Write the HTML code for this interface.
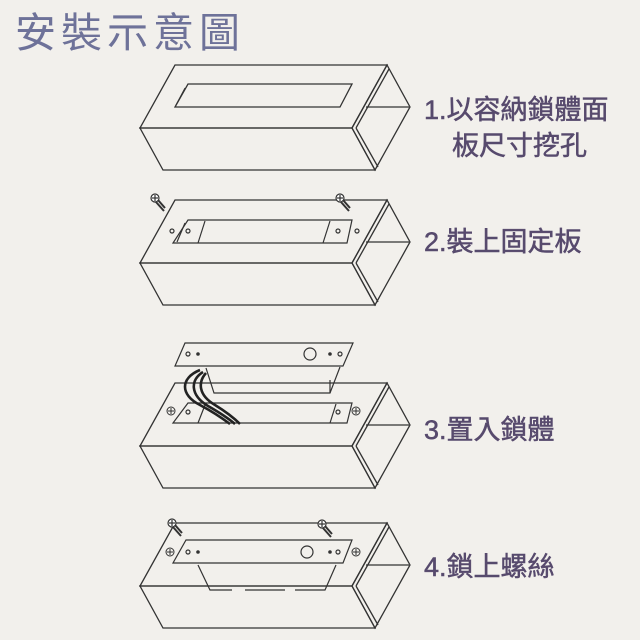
<!DOCTYPE html>
<html><head><meta charset="utf-8"><style>
html,body{margin:0;padding:0;background:#f2f0ec;}
svg{display:block}
.t{font-family:"Liberation Sans","Noto Sans CJK TC",sans-serif;}
</style></head><body>
<svg width="640" height="640" viewBox="0 0 640 640" xmlns="http://www.w3.org/2000/svg">
<rect width="640" height="640" fill="#f2f0ec"/>
<text class="t" x="15" y="47" font-size="41" fill="#6e7299" letter-spacing="5">安裝示意圖</text>
<g class="t" fill="#574a6d" stroke="#574a6d" stroke-width="0.5" font-size="27">
<text x="424" y="119">1.以容納鎖體面</text>
<text x="452" y="155">板尺寸挖孔</text>
<text x="424" y="251">2.裝上固定板</text>
<text x="424" y="439">3.置入鎖體</text>
<text x="424" y="576">4.鎖上螺絲</text>
</g>
<defs>
<g id="box" fill="none" stroke="#333" stroke-width="1.3">
<polygon points="175,0 387,0 352,63 140,63"/>
<polygon points="140,63 352,63 375,105 163,105"/>
<polygon points="352,63 387,0 410,42 375,105"/>
<line x1="366" y1="42" x2="409" y2="42"/>
<line x1="356" y1="63" x2="389" y2="4"/>
<line x1="356" y1="63" x2="378" y2="102"/>
</g>
<g id="screw" fill="none" stroke="#333" stroke-width="1.2">
<circle cx="0" cy="0" r="4" fill="#fff"/>
<line x1="-3" y1="0" x2="3" y2="0"/><line x1="0" y1="-3" x2="0" y2="3"/>
<path d="M1,4 L9,13 M3,2 L10,10" stroke-width="2"/>
</g>
<g id="cross" fill="none" stroke="#333" stroke-width="1">
<circle r="4"/><line x1="-3" y1="0" x2="3" y2="0"/><line x1="0" y1="-3" x2="0" y2="3"/>
</g>
</defs>
<use href="#box" y="65"/>
<polygon points="188,84 352,84 340,107 175,107" fill="none" stroke="#333" stroke-width="1.3"/>
<line x1="185" y1="88" x2="176" y2="105" stroke="#333"/>
<use href="#box" y="200"/>
<g fill="none" stroke="#333" stroke-width="1.2">
<polygon points="188,220 352,220 347,243 173,243"/>
<line x1="185" y1="223" x2="177" y2="242"/>
<line x1="205" y1="221" x2="198" y2="243"/>
<line x1="330" y1="221" x2="323" y2="243"/>
<circle cx="172" cy="231" r="2"/><circle cx="188" cy="231" r="2"/>
<circle cx="338" cy="231" r="2"/><circle cx="357" cy="231" r="2"/>
</g>
<use href="#screw" x="155" y="198"/>
<use href="#screw" x="340" y="198"/>
<use href="#box" y="383"/>
<g fill="none" stroke="#333" stroke-width="1.2">
<polygon points="188,403 352,403 347,423 173,423"/>
<line x1="198" y1="423" x2="205" y2="405"/>
<line x1="330" y1="423" x2="336" y2="404"/>
<circle cx="188" cy="412" r="2"/><circle cx="338" cy="412" r="2"/>
<polygon points="185,343 353,343 343,366 175,366" fill="#f2f0ec"/>
<circle cx="188" cy="354" r="2"/><circle cx="198" cy="354" r="1.2" fill="#333"/>
<circle cx="310" cy="354" r="6"/>
<circle cx="330" cy="354" r="1.2" fill="#333"/><circle cx="340" cy="354" r="2"/>
<path d="M206,368 L214,393 L330,393 L340,367"/>
<path d="M330,393 L330,380"/>
</g>
<g fill="none" stroke="#222" stroke-width="2.6">
<path d="M200,370 C180,378 180,395 200,405 C215,413 222,418 230,424"/>
<path d="M203,372 C190,380 190,395 208,406 C222,414 228,418 235,424"/>
<path d="M206,373 C198,382 198,395 215,405 C228,413 234,418 240,424"/>
</g>
<use href="#cross" x="171" y="411"/>
<use href="#cross" x="356" y="411"/>
<use href="#box" y="523"/>
<g fill="none" stroke="#333" stroke-width="1.2">
<path d="M198,565 L210,590 L232,590 M245,590 L285,590 M295,590 L325,590 L336,565"/>
<polygon points="186,540 352,540 343,563 173,563" fill="#f2f0ec"/>
<circle cx="188" cy="552" r="2"/><circle cx="198" cy="552" r="1.2" fill="#333"/>
<circle cx="307" cy="552" r="6"/>
<circle cx="330" cy="552" r="1.2" fill="#333"/><circle cx="338" cy="552" r="2"/>
</g>
<use href="#cross" x="170" y="552"/>
<use href="#cross" x="356" y="552"/>
<use href="#screw" x="172" y="523"/>
<use href="#screw" x="322" y="524"/>
</svg>
</body></html>
